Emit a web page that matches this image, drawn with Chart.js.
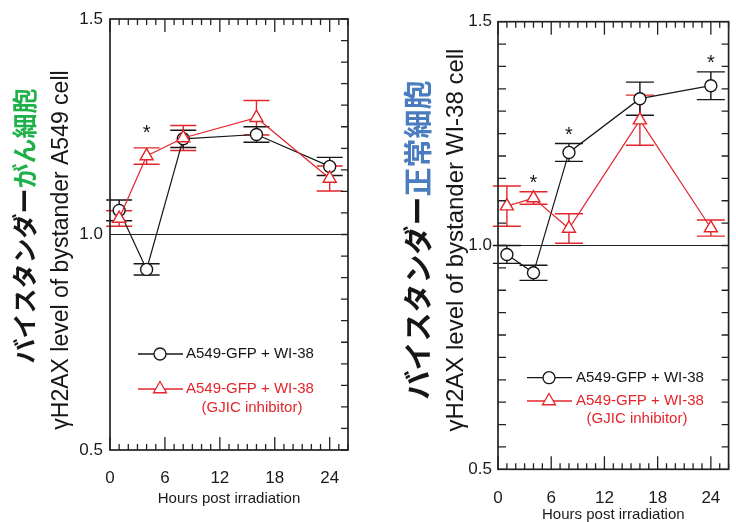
<!DOCTYPE html>
<html>
<head>
<meta charset="utf-8">
<script src="https://cdn.jsdelivr.net/npm/chart.js@4.4.0/dist/chart.umd.min.js"></script>
<style>
  html, body { margin: 0; padding: 0; background: #fff; overflow: hidden; width: 736px; height: 522px; }
  #a549-chart { position: absolute; left: 0; top: 0; }
  #wi38-chart { position: absolute; left: 380px; top: 0; }
</style>
</head>
<body>
<canvas id="a549-chart" width="368" height="522"></canvas>
<canvas id="wi38-chart" width="360" height="522"></canvas>
<script>
(function () {
  'use strict';

  // data
  const hours = [1, 4, 8, 16, 24];
  const xTicks = [0, 6, 12, 18, 24];
  const yTicks = [0.5, 1.0, 1.5];
  const seriesName = 'A549-GFP + WI-38';
  const inhibitorNote = '(GJIC inhibitor)';
  const xTitle = 'Hours post irradiation';

  // bystander A549 (left)
  const a549Ctrl = [1.056, 0.919, 1.222, 1.232, 1.158];
  const a549CtrlErr = [0.024, 0.013, 0.02, 0.018, 0.021];
  const a549Inhib = [1.037, 1.182, 1.224, 1.271, 1.130];
  const a549InhibErr = [0.018, 0.019, 0.029, 0.04, 0.029];
  const a549Stars = [{ x: 4, y: 1.248 }];

  // bystander WI-38 (right)
  const wi38Ctrl = [0.980, 0.939, 1.208, 1.328, 1.357];
  const wi38CtrlErr = [0.02, 0.017, 0.02, 0.037, 0.031];
  const wi38Inhib = [1.088, 1.106, 1.038, 1.280, 1.039];
  const wi38InhibErr = [0.045, 0.014, 0.033, 0.056, 0.018];
  const wi38Stars = [{ x: 4, y: 1.151 }, { x: 8, y: 1.259 }, { x: 24, y: 1.419 }];

  const BLACK = '#161616';
  const RED = '#e3262b';
  const GREEN = '#1fb04a';
  const BLUE = '#4a7dbf';
  const LATIN = '"Liberation Sans", Arial, sans-serif';
  const CJK = '"Noto Sans CJK JP", sans-serif';

  function drawRotated(ctx, parts, cx, cy, font) {
    ctx.save();
    ctx.translate(cx, cy);
    ctx.rotate(-Math.PI / 2);
    ctx.font = font;
    ctx.textBaseline = 'middle';
    ctx.textAlign = 'left';
    const widths = parts.map(pt => ctx.measureText(pt.text).width);
    let xx = -widths.reduce((s, w) => s + w, 0) / 2;
    parts.forEach((pt, i) => {
      ctx.fillStyle = pt.color;
      ctx.fillText(pt.text, xx, 0);
      xx += widths[i];
    });
    ctx.restore();
  }

  function panelPlugin(p) {
    return {
      id: 'panel',
      beforeDatasetsDraw(chart) {
        const { ctx, chartArea: a, scales: { x, y } } = chart;
        ctx.save();
        // reference line at 1.0
        ctx.strokeStyle = '#222';
        ctx.lineWidth = 1.2;
        ctx.beginPath();
        ctx.moveTo(a.left, y.getPixelForValue(1));
        ctx.lineTo(a.right, y.getPixelForValue(1));
        ctx.stroke();
        // error bars
        chart.data.datasets.forEach(ds => {
          ctx.strokeStyle = ds.borderColor;
          ctx.lineWidth = 1.4;
          ds.data.forEach((pt, i) => {
            const px = x.getPixelForValue(pt.x);
            const top = y.getPixelForValue(pt.y + ds.errors[i]);
            const bot = y.getPixelForValue(pt.y - ds.errors[i]);
            ctx.beginPath();
            ctx.moveTo(px, top); ctx.lineTo(px, bot);
            ctx.moveTo(px - p.cap, top); ctx.lineTo(px + p.cap, top);
            ctx.moveTo(px - p.cap, bot); ctx.lineTo(px + p.cap, bot);
            ctx.stroke();
          });
        });
        ctx.restore();
      },
      afterDraw(chart) {
        const { ctx, chartArea: a, scales: { x, y } } = chart;
        ctx.save();
        // frame
        ctx.strokeStyle = '#222';
        ctx.lineWidth = 1.7;
        ctx.strokeRect(a.left, a.top, a.right - a.left, a.bottom - a.top);
        // inward ticks
        ctx.lineWidth = 1.3;
        ctx.beginPath();
        for (let h = 0; h <= 26; h++) {
          const px = x.getPixelForValue(h);
          const len = h % 6 === 0 ? 13 : 6;
          ctx.moveTo(px, a.bottom); ctx.lineTo(px, a.bottom - len);
          ctx.moveTo(px, a.top); ctx.lineTo(px, a.top + len);
        }
        for (let k = 0; k <= 20; k++) {
          const py = y.getPixelForValue(0.5 + k * 0.05);
          ctx.moveTo(a.right, py); ctx.lineTo(a.right - 7, py);
          if (p.leftTicks) { ctx.moveTo(a.left, py); ctx.lineTo(a.left + 8, py); }
        }
        ctx.stroke();

        // significance stars
        ctx.fillStyle = BLACK;
        ctx.font = '20px ' + LATIN;
        ctx.textAlign = 'center';
        ctx.textBaseline = 'alphabetic';
        p.stars.forEach(s => {
          ctx.fillText('*', x.getPixelForValue(s.x), y.getPixelForValue(s.y) + 11);
        });

        // legend
        const lg = p.legend;
        const rows = [
          { color: BLACK, style: 'circle', radius: 6, y: a.top + lg.row1 },
          { color: RED, style: 'triangle', radius: 7.5, y: a.top + lg.row2 }
        ];
        rows.forEach(r => {
          ctx.strokeStyle = r.color;
          ctx.lineWidth = 1.3;
          ctx.beginPath();
          ctx.moveTo(a.left + lg.x0, r.y);
          ctx.lineTo(a.left + lg.x1, r.y);
          ctx.stroke();
          ctx.fillStyle = '#fff';
          Chart.helpers.drawPoint(ctx, { pointStyle: r.style, radius: r.radius, borderWidth: 1.4 }, a.left + lg.mark, r.y);
          ctx.fillStyle = r.color;
          ctx.font = '15px ' + LATIN;
          ctx.textAlign = 'left';
          ctx.textBaseline = 'middle';
          ctx.fillText(seriesName, a.left + lg.text, r.y);
        });
        ctx.fillStyle = RED;
        ctx.textAlign = 'center';
        ctx.fillText(inhibitorNote, a.left + lg.noteX, a.top + lg.noteY);
        ctx.restore();

        // axis labels (English + Japanese, rotated)
        drawRotated(ctx, [{ text: p.yTitle, color: BLACK }], p.yTitlePos[0], p.yTitlePos[1], p.yTitleSize + 'px ' + LATIN);
        drawRotated(ctx, [{ text: 'バイスタンダー', color: BLACK }, { text: p.jpCell, color: p.jpColor }],
          p.jpPos[0], p.jpPos[1], 'bold ' + p.jpSize + 'px ' + CJK);
      }
    };
  }

  function makeChart(id, ctrl, ctrlErr, inhib, inhibErr, p) {
    const ctx = document.getElementById(id);
    return new Chart(ctx, {
      type: 'line',
      data: {
        datasets: [
          {
            label: seriesName + ' ' + inhibitorNote,
            data: hours.map((h, i) => ({ x: h, y: inhib[i] })),
            errors: inhibErr,
            borderColor: RED,
            backgroundColor: '#fff',
            pointBackgroundColor: '#fff',
            pointBorderColor: RED,
            pointStyle: 'triangle',
            pointRadius: 7.5,
            pointBorderWidth: 1.4,
            borderWidth: 1.2,
            tension: 0,
            order: 0
          },
          {
            label: seriesName,
            data: hours.map((h, i) => ({ x: h, y: ctrl[i] })),
            errors: ctrlErr,
            borderColor: BLACK,
            backgroundColor: '#fff',
            pointBackgroundColor: '#fff',
            pointBorderColor: BLACK,
            pointStyle: 'circle',
            pointRadius: 6,
            pointBorderWidth: 1.4,
            borderWidth: 1.2,
            tension: 0,
            order: 1
          }
        ]
      },
      options: {
        responsive: false,
        animation: false,
        layout: { padding: { left: 0, right: p.padRight, top: p.padTop, bottom: 0 } },
        scales: {
          x: {
            type: 'linear',
            min: 0,
            max: 26,
            grid: { display: false, drawTicks: false },
            border: { display: false },
            afterBuildTicks: s => { s.ticks = xTicks.map(v => ({ value: v })); },
            afterFit: s => { s.height = p.xHeight; },
            ticks: {
              padding: p.xTickPad,
              maxRotation: 0,
              color: '#1a1a1a',
              font: { family: LATIN, size: 17 }
            },
            title: {
              display: true,
              text: xTitle,
              color: '#1a1a1a',
              font: { family: LATIN, size: 15 },
              padding: { top: 0, bottom: p.xTitlePad }
            }
          },
          y: {
            min: 0.5,
            max: 1.5,
            grid: { display: false, drawTicks: false },
            border: { display: false },
            afterBuildTicks: s => { s.ticks = yTicks.map(v => ({ value: v })); },
            afterFit: s => { s.width = p.yWidth; },
            ticks: {
              padding: p.yTickPad,
              color: '#1a1a1a',
              font: { family: LATIN, size: 17 },
              callback: v => v.toFixed(1)
            }
          }
        },
        plugins: {
          legend: { display: false },
          tooltip: { enabled: false }
        }
      },
      plugins: [panelPlugin(p)]
    });
  }

  makeChart('a549-chart', a549Ctrl, a549CtrlErr, a549Inhib, a549InhibErr, {
    padRight: 20, padTop: 19, xHeight: 72, yWidth: 110,
    xTickPad: 18, yTickPad: 7, xTitlePad: 14, cap: 13, leftTicks: false,
    stars: a549Stars,
    legend: { x0: 28, x1: 73, mark: 50, text: 76, row1: 335, row2: 370, noteX: 142, noteY: 389 },
    yTitle: 'γH2AX level of bystander A549 cell', yTitleSize: 23, yTitlePos: [62, 250],
    jpCell: 'がん細胞', jpColor: GREEN, jpSize: 25, jpPos: [24, 226]
  });

  makeChart('wi38-chart', wi38Ctrl, wi38CtrlErr, wi38Inhib, wi38InhibErr, {
    padRight: 1.5, padTop: 21.7, xHeight: 52.7, yWidth: 118,
    xTickPad: 19, yTickPad: 6, xTitlePad: -2, cap: 14, leftTicks: true,
    stars: wi38Stars,
    legend: { x0: 29, x1: 74, mark: 51, text: 78, row1: 356, row2: 379.3, noteX: 139, noteY: 397.3 },
    yTitle: 'γH2AX level of bystander WI-38 cell', yTitleSize: 24, yTitlePos: [76, 240],
    jpCell: '正常細胞', jpColor: BLUE, jpSize: 29, jpPos: [38, 240]
  });
})();
</script>
</body>
</html>
